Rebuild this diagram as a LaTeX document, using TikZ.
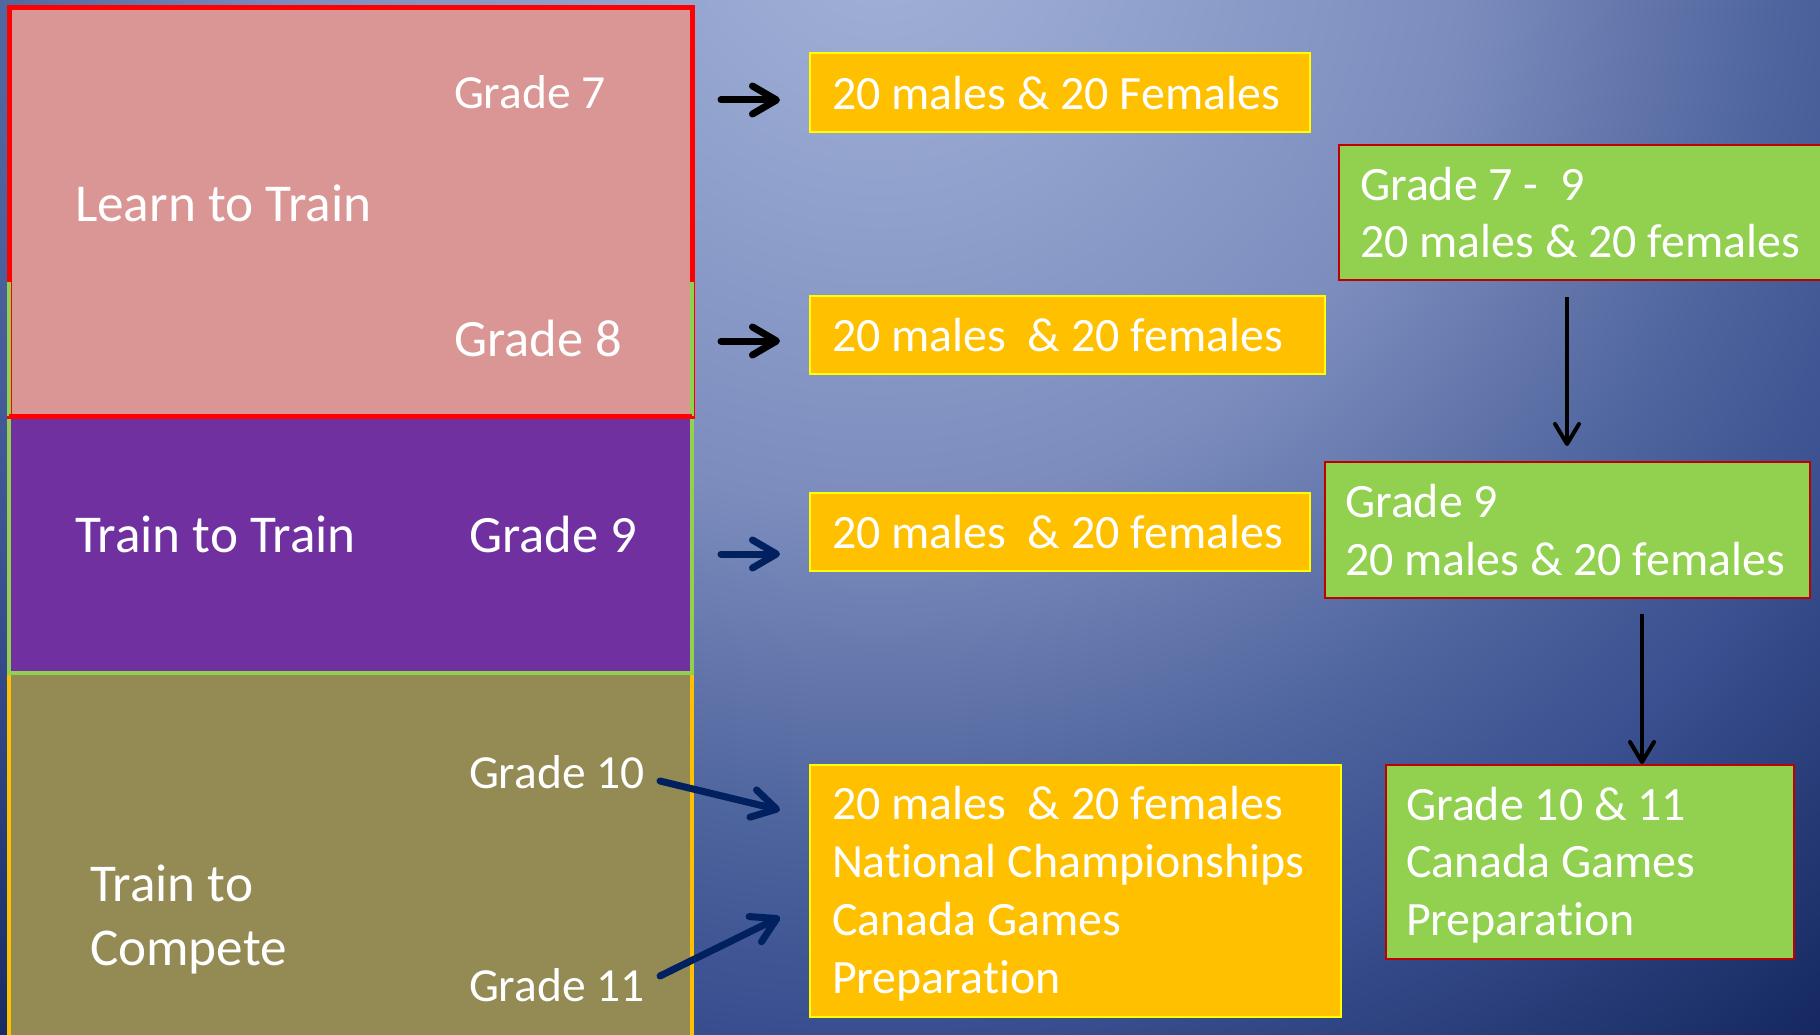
\documentclass[tikz,border=0pt]{standalone}
\usepackage{fontspec}
\setmainfont{Carlito}[Ligatures=NoCommon]
\usetikzlibrary{arrows.meta}
\definecolor{pinkFill}{HTML}{D99694}
\definecolor{redBorder}{HTML}{FF0000}
\definecolor{purpleFill}{HTML}{7030A0}
\definecolor{greenC}{HTML}{92D050}
\definecolor{oliveFill}{HTML}{948A54}
\definecolor{orangeC}{HTML}{FFC000}
\definecolor{yellowC}{HTML}{FFFF00}
\definecolor{darkRed}{HTML}{C00000}
\definecolor{navy}{HTML}{002060}
\definecolor{bgA}{HTML}{A2B2D8}
\definecolor{bgB}{HTML}{8FA0CC}
\definecolor{bgC}{HTML}{7C8CBD}
\definecolor{bgD}{HTML}{4F659E}
\definecolor{bgE}{HTML}{3A5090}
\definecolor{bgF}{HTML}{15285F}
\pgfdeclareradialshading{bgshade}{\pgfpoint{0bp}{0bp}}{color(0bp)=(bgA); color(5bp)=(bgB); color(9.8bp)=(bgC); color(15bp)=(bgD); color(18.3bp)=(bgE); color(24.2bp)=(bgF); color(50bp)=(bgF)}
\tikzset{
  box/.style={inner sep=0pt, outer sep=0pt, anchor=north west},
  leftbox/.style={box, line width=4.5pt},
  obox/.style={box, fill=orangeC, draw=yellowC, line width=1.5pt},
  gbox/.style={box, fill=greenC, draw=darkRed, line width=1.5pt},
  txt/.style={text=white, inner sep=0pt, outer sep=0pt, anchor=base west},
  rtxt/.style={txt, font=\fontsize{47.9}{57}\selectfont},
  harrow/.style={line width=7pt, line cap=round, -{Straight Barb[length=24pt, width=28pt, round]}},
  varrow/.style={line width=4pt, -{Straight Barb[length=20pt, width=24pt, round]}}
}
\begin{document}
\begin{tikzpicture}[x=1pt, y=-1pt]
\useasboundingbox (0,0) rectangle (1820,1035);
\begin{scope}
\clip (0,0) rectangle (1820,1035);
\shade[shading=bgshade] (880,-80) circle[radius=1500pt];

% left stage boxes
\node[leftbox, fill=oliveFill, draw=orangeC, minimum width=683pt, minimum height=380pt] (ttcbox) at (9,673) {};
\node[leftbox, fill=purpleFill, draw=greenC, minimum width=683pt, minimum height=391pt] (ttbox) at (9,282) {};
\node[leftbox, fill=pinkFill, draw=redBorder, line width=5pt, minimum width=683pt, minimum height=408pt] (ltbox) at (9,8) {};
\draw[greenC, line width=4.5pt] (ttbox.north west) -- (ltbox.south west);
\draw[greenC, line width=4.5pt] (ttbox.north east) -- (ltbox.south east);
\draw[redBorder, line width=5pt] (ltbox.south west) -- (ltbox.south east);

\node[txt, font=\fontsize{53.3}{64}\selectfont] (lt) at (75,221.5) {Learn to Train};
\node[txt, font=\fontsize{47.5}{56}\selectfont] (g7) at (454,109) {Grade 7};
\node[txt, font=\fontsize{52.5}{62}\selectfont] (g8) at (454,356.5) {Grade 8};
\node[txt, font=\fontsize{53.2}{64}\selectfont] (tt) at (75,552.5) {Train to Train};
\node[txt, font=\fontsize{52.5}{62}\selectfont] (g9) at (469,552.5) {Grade 9};
\node[txt, font=\fontsize{47.5}{57}\selectfont] (g10) at (469,788.5) {Grade 10};
\node[txt, font=\fontsize{47.5}{57}\selectfont] (g11) at (469,1001) {Grade 11};
\node[txt, font=\fontsize{53.2}{64}\selectfont] (tc1) at (90,901) {Train to};
\node[txt, font=\fontsize{53.2}{64}\selectfont] (tc2) at (90,965) {Compete};

% orange boxes
\node[obox, minimum width=500pt, minimum height=79pt] (o1) at (810,53) {};
\node[obox, minimum width=515pt, minimum height=78pt] (o2) at (810,296) {};
\node[obox, minimum width=500pt, minimum height=78pt] (o3) at (810,493) {};
\node[obox, minimum width=531pt, minimum height=252pt] (o4) at (810,765) {};
\node[rtxt] (o1t) at (832,109.5) {20 males \& 20 Females};
\node[rtxt] (o2t) at (832,351.5) {20 males\ \ \& 20 females};
\node[rtxt] (o3t) at (832,548.5) {20 males\ \ \& 20 females};
\node[rtxt] (o4a) at (832,819.5) {20 males\ \ \& 20 females};
\node[rtxt] (o4b) at (832,877.5) {National Championships};
\node[rtxt] (o4c) at (832,935.5) {Canada Games};
\node[rtxt] (o4d) at (832,993.5) {Preparation};

% green boxes
\node[gbox, minimum width=491pt, minimum height=135pt] (gA) at (1339,145) {};
\node[gbox, minimum width=485pt, minimum height=136pt] (gB) at (1325,462) {};
\node[gbox, minimum width=408pt, minimum height=194pt] (gC) at (1386,765) {};
\node[rtxt] (gAa) at (1360,200.5) {Grade 7 -\ \ 9};
\node[rtxt] (gAb) at (1360,258) {20 males \& 20 females};
\node[rtxt] (gBa) at (1345,517.5) {Grade 9};
\node[rtxt] (gBb) at (1345,575.5) {20 males \& 20 females};
\node[rtxt] (gCa) at (1406,820) {Grade 10 \& 11};
\node[rtxt] (gCb) at (1406,877.5) {Canada Games};
\node[rtxt] (gCc) at (1406,935.5) {Preparation};

% arrow end points
\coordinate (a1s) at (721,100);  \coordinate (a1e) at (780,100);
\coordinate (a2s) at (721,341);  \coordinate (a2e) at (780,341);
\coordinate (a3s) at (721,554);  \coordinate (a3e) at (780,554);
\coordinate (a4s) at (660,781);  \coordinate (a4e) at (780,810);
\coordinate (a5s) at (660,976);  \coordinate (a5e) at (780,917);
\coordinate (d1s) at (1567,297); \coordinate (d1e) at (1567,446);
\coordinate (d2s) at (1642,614); \coordinate (d2e) at (1642,764);

\draw[harrow, black] (a1s) -- (a1e);
\draw[harrow, black] (a2s) -- (a2e);
\draw[harrow, navy] (a3s) -- (a3e);
\draw[harrow, navy] (a4s) -- (a4e);
\draw[harrow, navy] (a5s) -- (a5e);
\draw[varrow, black] (d1s) -- (d1e);
\draw[varrow, black] (d2s) -- (d2e);
\end{scope}
\end{tikzpicture}
\end{document}
